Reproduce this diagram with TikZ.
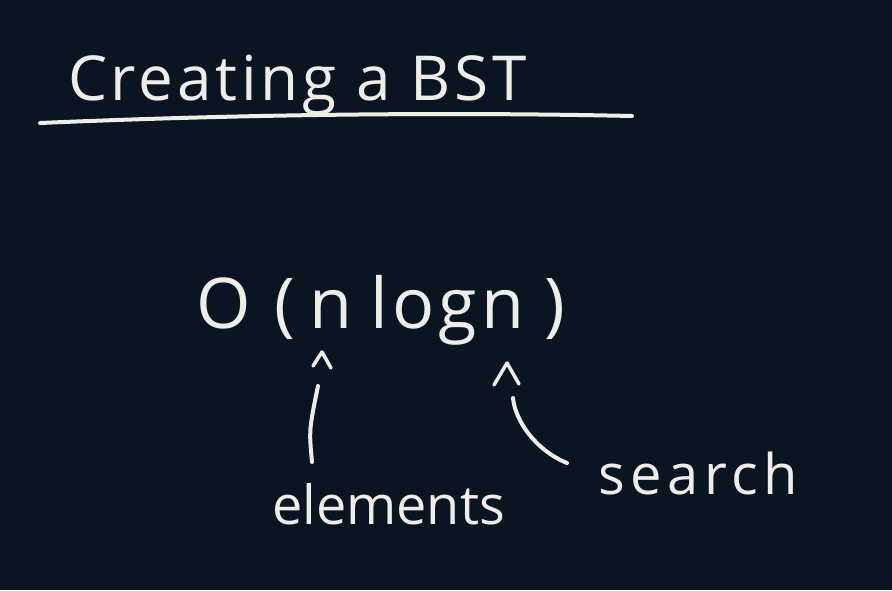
\documentclass[tikz,border=0pt]{standalone}
\usepackage{fontspec}
\setmainfont{Open Sans}
\usetikzlibrary{arrows.meta}
\definecolor{bg}{HTML}{0B1421}
\definecolor{ink}{HTML}{EEEDEA}
\begin{document}
\begin{tikzpicture}[x=1pt,y=-1pt,
  hand/.style={text=ink, inner sep=0pt, anchor=base west},
  stroke/.style={draw=ink, line width=4pt, line cap=round, line join=round}]
\fill[bg] (0,0) rectangle (892,590);
\useasboundingbox (0,0) rectangle (892,590);
% title
\node[hand, font=\fontsize{62}{64}\selectfont\addfontfeature{LetterSpace=6}] (title) at (68,100) {Creating a BST};
\coordinate (ulA) at (40,123);
\coordinate (ulB) at (632,116);
\draw[stroke] (ulA) .. controls (250,114) and (450,112) .. (ulB);
% formula
\node[hand, font=\fontsize{70}{72}\selectfont] (formula) at (196,328)
  {O\hspace{24pt}(\hspace{14pt}n\hspace{18pt}{\addfontfeature{LetterSpace=6}logn}\hspace{20pt})};
% labels
\node[hand, font=\fontsize{54}{56}\selectfont] (elements) at (272,524) {elements};
\node[hand, font=\fontsize{56}{58}\selectfont\addfontfeature{LetterSpace=10}] (search) at (598,494) {search};
% arrow to n
\coordinate (t1) at (322,352);
\coordinate (s1a) at (318,386);
\coordinate (s1b) at (312,462);
\draw[stroke] (s1b) .. controls (309,430) .. (s1a);
\draw[stroke, line width=3.5pt] (313,366) -- (t1) -- (331,368);
% arrow to logn
\coordinate (t2) at (507,363);
\coordinate (s2a) at (513,398);
\coordinate (s2b) at (567,463);
\draw[stroke] (s2b) .. controls (535,450) and (515,420) .. (s2a);
\draw[stroke, line width=3.5pt] (494,385) -- (t2) -- (519,384);
\end{tikzpicture}
\end{document}
